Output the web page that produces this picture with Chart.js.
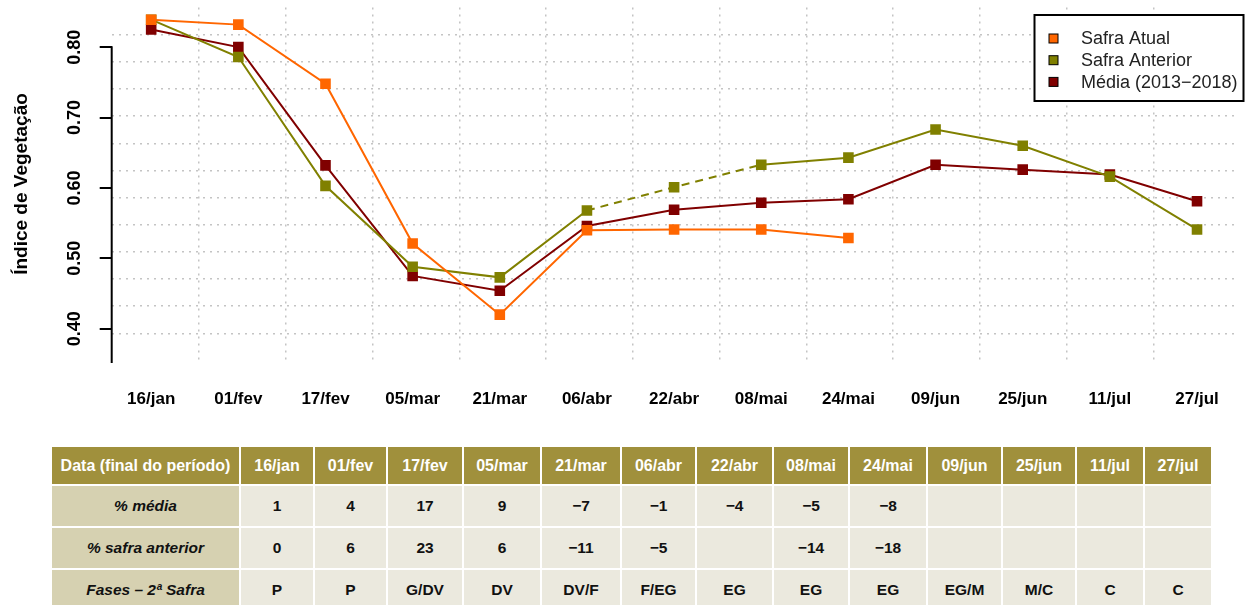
<!DOCTYPE html>
<html lang="pt-BR">
<head>
<meta charset="utf-8">
<title>Índice de Vegetação</title>
<script src="https://cdn.jsdelivr.net/npm/chart.js@4.4.1/dist/chart.umd.min.js"></script>
<style>
  html, body { margin: 0; padding: 0; background: #fff; overflow: hidden; }
  #wrap { position: absolute; left: 0; top: 0; width: 1248px; height: 425px; }
  #tabela {
    position: absolute; left: 50px; top: 445px;
    border-collapse: separate; border-spacing: 2px; table-layout: fixed;
    font-family: "Liberation Sans", Arial, sans-serif; font-weight: bold; font-size: 15.5px; color: #111;
  }
  #tabela th, #tabela td { padding: 0; text-align: center; vertical-align: middle; white-space: nowrap; overflow: hidden; }
  #tabela th { background: #a0903c; color: #fff; height: 37px; font-size: 16px; }
  #tabela td { background: #ebe9de; height: 40px; }
  #tabela td.rot { background: #d6d1b1; font-style: italic; }
</style>
</head>
<body>
<div id="wrap"><canvas id="grafico"></canvas></div>
<table id="tabela"></table>
<script>
  'use strict';

  // datas (final do periodo)
  var datas = ['16/jan', '01/fev', '17/fev', '05/mar', '21/mar', '06/abr', '22/abr', '08/mai', '24/mai', '09/jun', '25/jun', '11/jul', '27/jul'];

  // indice de vegetacao por serie
  var safraAtual = [0.839, 0.832, 0.748, 0.521, 0.420, 0.540, 0.541, 0.541, 0.529, null, null, null, null];
  var safraAnterior = [0.839, 0.786, 0.603, 0.488, 0.473, 0.568, 0.601, 0.633, 0.643, 0.683, 0.660, 0.616, 0.541];
  var media = [0.825, 0.800, 0.632, 0.475, 0.454, 0.546, 0.569, 0.579, 0.584, 0.633, 0.626, 0.619, 0.581];

  var yTicks = [0.4, 0.5, 0.6, 0.7, 0.8];
  var trechoTracejado = [5, 7]; // safra anterior: 06/abr -> 08/mai

  // tabela
  var pctMedia = ['1', '4', '17', '9', '\u22127', '\u22121', '\u22124', '\u22125', '\u22128', '', '', '', ''];
  var pctAnterior = ['0', '6', '23', '6', '\u221211', '\u22125', '', '\u221214', '\u221218', '', '', '', ''];
  var fases = ['P', 'P', 'G/DV', 'DV', 'DV/F', 'F/EG', 'EG', 'EG', 'EG', 'EG/M', 'M/C', 'C', 'C'];

  var larguraColunas = [187, 72, 71, 74, 76, 78, 73, 75, 74, 76, 73, 72, 66, 66];
  var fonte = '"Liberation Sans", Arial, sans-serif';

  function pontos(serie) {
    return serie.map(function (v, i) { return { x: i, y: v }; });
  }

  function serie(label, valores, cor) {
    return {
      label: label,
      data: pontos(valores),
      borderColor: cor,
      backgroundColor: cor,
      borderWidth: 2,
      pointStyle: 'rect',
      pointRadius: 7.5,
      pointBorderWidth: 0,
      pointHoverRadius: 7.5,
      spanGaps: false
    };
  }

  var atual = serie('Safra Atual', safraAtual, '#ff6600');
  var anterior = serie('Safra Anterior', safraAnterior, '#808000');
  anterior.segment = {
    borderDash: function (ctx) {
      return (ctx.p0DataIndex >= trechoTracejado[0] && ctx.p1DataIndex <= trechoTracejado[1]) ? [8, 6] : undefined;
    }
  };
  var med = serie('M\u00e9dia (2013\u22122018)', media, '#800000');

  // grade pontilhada
  var grade = { color: '#c4c4c4', lineWidth: 1.5, drawTicks: false };
  var bordaGrade = { display: false, dash: [2, 5] };

  // eixo y com rotulos verticais
  var eixoY = {
    id: 'eixoY',
    afterDraw: function (chart) {
      var ctx = chart.ctx;
      var ys = chart.scales.y;
      var area = chart.chartArea;
      ctx.save();
      ctx.strokeStyle = '#000';
      ctx.lineWidth = 2;
      ctx.beginPath();
      ctx.moveTo(area.left, ys.getPixelForValue(yTicks[yTicks.length - 1]) - 1);
      ctx.lineTo(area.left, area.bottom + 2.5);
      ctx.stroke();

      ctx.fillStyle = '#000';
      ctx.textAlign = 'center';
      ctx.textBaseline = 'middle';
      ctx.font = 'bold 18px ' + fonte;
      yTicks.forEach(function (v) {
        ctx.save();
        ctx.translate(75, ys.getPixelForValue(v));
        ctx.rotate(-Math.PI / 2);
        ctx.fillText(v.toFixed(2), 0, 0);
        ctx.restore();
      });

      ctx.font = 'bold 19px ' + fonte;
      ctx.translate(21.5, (area.top + area.bottom) / 2);
      ctx.rotate(-Math.PI / 2);
      ctx.fillText('\u00cdndice de Vegeta\u00e7\u00e3o', 0, 0);
      ctx.restore();
    }
  };

  // legenda dentro da area do grafico
  var legendaCaixa = {
    id: 'legendaCaixa',
    afterDraw: function (chart) {
      var ctx = chart.ctx;
      ctx.save();
      ctx.fillStyle = '#fff';
      ctx.fillRect(1034.5, 15, 209, 86);
      ctx.strokeStyle = '#000';
      ctx.lineWidth = 2;
      ctx.strokeRect(1034.5, 15, 209, 86);
      ctx.font = '18px ' + fonte;
      ctx.textBaseline = 'middle';
      ctx.textAlign = 'left';
      chart.data.datasets.forEach(function (ds, i) {
        var cy = 38.5 + i * 21.7;
        ctx.fillStyle = ds.borderColor;
        ctx.fillRect(1049, cy - 4.5, 9, 9);
        ctx.lineWidth = 1;
        ctx.strokeStyle = '#000';
        ctx.strokeRect(1049, cy - 4.5, 9, 9);
        ctx.fillStyle = '#222';
        ctx.fillText(ds.label, 1081, cy + 1);
      });
      ctx.restore();
    }
  };

  new Chart(document.getElementById('grafico').getContext('2d'), {
    type: 'line',
    data: { datasets: [atual, anterior, med] },
    plugins: [eixoY, legendaCaixa],
    options: {
      responsive: true,
      maintainAspectRatio: false,
      animation: false,
      layout: { padding: { top: 2.5, left: 0, right: 0, bottom: 0 } },
      plugins: { legend: { display: false }, tooltip: { enabled: false } },
      scales: {
        x: {
          type: 'linear',
          min: -0.453,
          max: 12.43,
          afterBuildTicks: function (s) { s.ticks = datas.map(function (_, i) { return { value: i }; }); },
          afterFit: function (s) { s.height = 64.5; },
          grid: { display: false, drawTicks: false },
          border: { display: false },
          ticks: {
            autoSkip: false, maxRotation: 0, minRotation: 0, padding: 29, color: '#000',
            font: { family: fonte, size: 17, weight: 'bold' },
            callback: function (v) { return datas[v]; }
          }
        },
        gx: {
          type: 'linear',
          position: 'bottom',
          min: -1.0055,
          max: 11.933,
          afterBuildTicks: function (s) { s.ticks = datas.slice(1).map(function (_, k) { return { value: k }; }); },
          afterFit: function (s) { s.height = 0; },
          grid: grade,
          border: bordaGrade,
          ticks: { display: false }
        },
        y: {
          min: 0.3549,
          max: 0.8563,
          afterBuildTicks: function (s) { s.ticks = yTicks.map(function (v) { return { value: v }; }); },
          afterFit: function (s) { s.width = 111.7; },
          grid: { drawOnChartArea: false, color: '#000', lineWidth: 2, tickLength: 12 },
          border: { display: false },
          ticks: { display: false }
        },
        gy: {
          type: 'linear',
          position: 'left',
          min: 0,
          max: 13,
          afterBuildTicks: function (s) { s.ticks = datas.slice(1).map(function (_, k) { return { value: k + 1 }; }); },
          afterFit: function (s) { s.width = 0; },
          grid: grade,
          border: bordaGrade,
          ticks: { display: false }
        }
      }
    }
  });

  // tabela de comparacao
  var tabela = document.getElementById('tabela');
  var colgroup = document.createElement('colgroup');
  larguraColunas.forEach(function (w) {
    var col = document.createElement('col');
    col.style.width = w + 'px';
    colgroup.appendChild(col);
  });
  tabela.appendChild(colgroup);

  var linhas = [
    { rotulo: 'Data (final do per\u00edodo)', valores: datas, cabecalho: true },
    { rotulo: '% m\u00e9dia', valores: pctMedia },
    { rotulo: '% safra anterior', valores: pctAnterior },
    { rotulo: 'Fases \u2013 2\u00aa Safra', valores: fases }
  ];
  linhas.forEach(function (linha) {
    var tr = document.createElement('tr');
    var tag = linha.cabecalho ? 'th' : 'td';
    var c0 = document.createElement(tag);
    c0.textContent = linha.rotulo;
    if (!linha.cabecalho) { c0.className = 'rot'; }
    tr.appendChild(c0);
    linha.valores.forEach(function (v) {
      var c = document.createElement(tag);
      c.textContent = v;
      tr.appendChild(c);
    });
    tabela.appendChild(tr);
  });
</script>
</body>
</html>
